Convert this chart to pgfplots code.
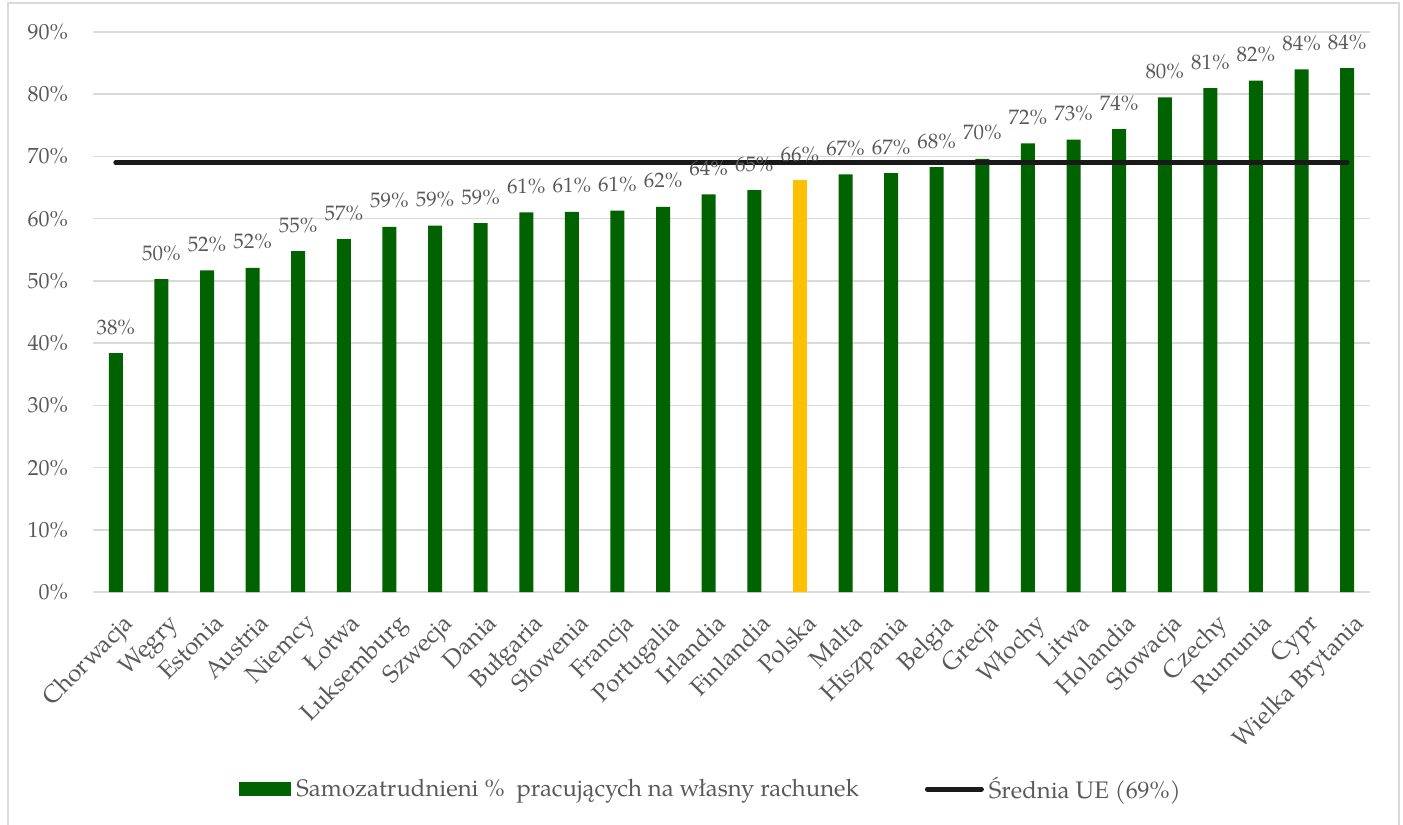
\documentclass[border=0pt]{standalone}
\usepackage{pgfplots}
\pgfplotsset{compat=1.18}
\usepackage{fontspec}
\setmainfont{TeX Gyre Pagella}

\definecolor{barGreen}{RGB}{0,99,0}
\definecolor{barGold}{RGB}{255,192,0}
\definecolor{txtGray}{RGB}{89,89,89}
\definecolor{gridGray}{RGB}{217,217,217}
\definecolor{avgBlack}{RGB}{26,26,26}

\begin{document}
\begin{tikzpicture}[font=\fontsize{10.5}{12}\selectfont]
\useasboundingbox (0,0) rectangle (701.5bp,412.5bp);
% chart frame
\draw[gridGray, line width=1bp] (4bp,-2bp) -- (4bp,411bp) -- (699.5bp,411bp) -- (699.5bp,-2bp);
\begin{axis}[
  at={(46.5bp,116.5bp)}, anchor=south west,
  scale only axis, width=638.5bp, height=280bp,
  xmin=-0.5, xmax=27.5, ymin=0, ymax=90,
  clip=false,
  axis line style={draw=none},
  major tick length=0pt,
  ymajorgrids, grid style={gridGray, line width=0.8bp},
  ytick={0,10,...,90},
  yticklabels={0\%,10\%,20\%,30\%,40\%,50\%,60\%,70\%,80\%,90\%},
  yticklabel style={text=txtGray, xshift=-9bp, font=\fontsize{11}{13}\selectfont},
  xtick={0,...,27},
  xticklabels={Chorwacja,Węgry,Estonia,Austria,Niemcy,Łotwa,Luksemburg,Szwecja,Dania,Bułgaria,Słowenia,Francja,Portugalia,Irlandia,Finlandia,Polska,Malta,Hiszpania,Belgia,Grecja,Włochy,Litwa,Holandia,Słowacja,Czechy,Rumunia,Cypr,Wielka Brytania},
  xticklabel style={text=txtGray, rotate=45, anchor=north east, inner sep=1bp, xshift=-4bp, yshift=-8bp, font=\fontsize{12.3}{14}\selectfont},
  /pgf/number format/assume math mode=true,
  legend columns=2,
  legend style={draw=none, fill=none, at={(0.484,-0.352)}, anchor=center,
    font=\fontsize{12}{14}\selectfont, text=txtGray,
    nodes={inner sep=1bp},
    /tikz/every odd column/.append style={column sep=1.5bp},
    /tikz/every even column/.append style={column sep=32bp}},
]
% self-employed share by country
\addplot[ybar, bar width=7bp, bar shift=0pt, fill=barGreen, draw=none,
  nodes near coords={\pgfmathprintnumber[fixed,precision=0]{\pgfplotspointmeta}\%},
  every node near coord/.append style={anchor=base, yshift=9.5bp, inner sep=0pt, text=txtGray, font=\fontsize{10.5}{12}\selectfont},
  legend image code/.code={\fill[barGreen] (0bp,-3.5bp) rectangle (26bp,3.5bp);}]
coordinates {
(0,38.4) (1,50.3) (2,51.7) (3,52.1) (4,54.8) (5,56.7) (6,58.7) (7,58.9)
(8,59.3) (9,61.0) (10,61.1) (11,61.3) (12,61.9) (13,63.9) (14,64.6)
(16,67.1) (17,67.3) (18,68.3) (19,69.6) (20,72.1) (21,72.7) (22,74.4)
(23,79.5) (24,81.0) (25,82.2) (26,84.0) (27,84.2)};
\addlegendentry{Samozatrudnieni \%~ pracujących na własny rachunek}
% Poland highlighted
\addplot[ybar, bar width=7bp, bar shift=0pt, fill=barGold, draw=none, forget plot,
  nodes near coords={\pgfmathprintnumber[fixed,precision=0]{\pgfplotspointmeta}\%},
  every node near coord/.append style={anchor=base, yshift=9.5bp, inner sep=0pt, text=txtGray, font=\fontsize{10.5}{12}\selectfont}]
coordinates {(15,66.2)};
% EU average
\addplot[avgBlack, line width=2.5bp, line cap=round, sharp plot, mark=none,
  legend image code/.code={\draw[avgBlack, line width=2.5bp, line cap=round] (1bp,0bp) -- (28bp,0bp);}]
coordinates {(0,69) (27,69)};
\addlegendentry{Średnia UE (69\%)}
\end{axis}
\end{tikzpicture}
\end{document}
